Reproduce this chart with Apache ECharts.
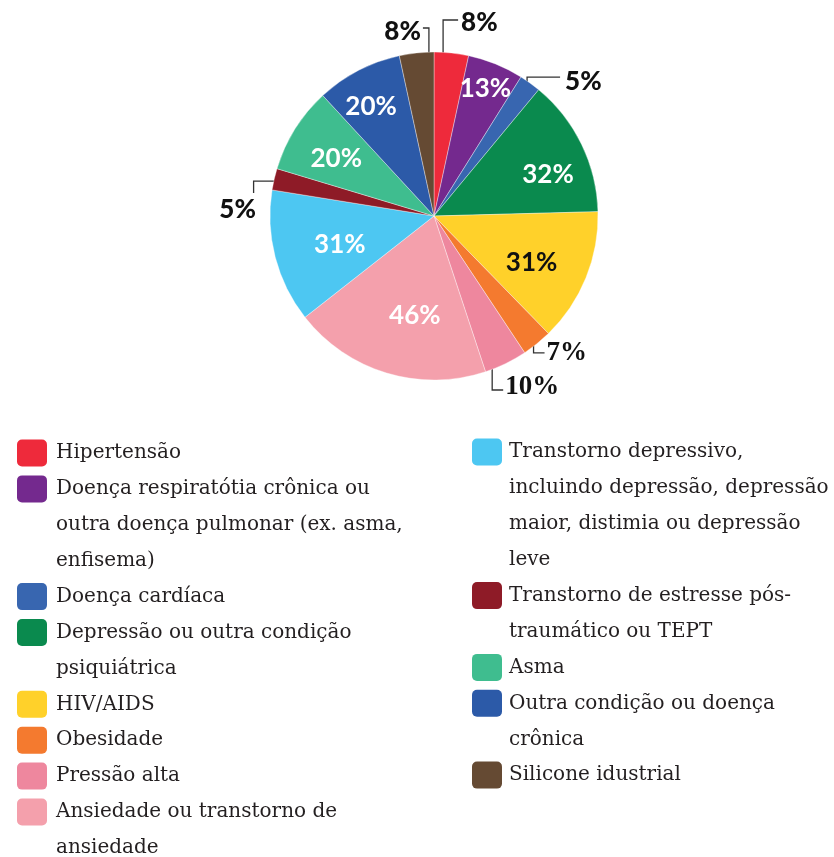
<!DOCTYPE html>
<html>
<head>
<meta charset="utf-8">
<script src="https://cdn.jsdelivr.net/npm/echarts@6/dist/echarts.min.js"></script>
<style>
  html, body { margin: 0; padding: 0; background: #fff; }
  #chart { width: 834px; height: 857px; }
</style>
</head>
<body>
<div id="chart"></div>
<script>
// dados
var categories = [
  "Hipertensão",
  "Doença respiratótia crônica ou\noutra doença pulmonar (ex. asma,\nenfisema)",
  "Doença cardíaca",
  "Depressão ou outra condição\npsiquiátrica",
  "HIV/AIDS",
  "Obesidade",
  "Pressão alta",
  "Ansiedade ou transtorno de\nansiedade",
  "Transtorno depressivo,\nincluindo depressão, depressão\nmaior, distimia ou depressão\nleve",
  "Transtorno de estresse pós-\ntraumático ou TEPT",
  "Asma",
  "Outra condição ou doença\ncrônica",
  "Silicone idustrial"
];
var values = [8, 13, 5, 32, 31, 7, 10, 46, 31, 5, 20, 20, 8];
var colors = [
  "#EE2A3B", "#74298E", "#3866B0", "#0A8A4E", "#FFD12A", "#F47A2F", "#EE879E",
  "#F4A0AC", "#4DC7F2", "#8E1B27", "#3FBD8F", "#2C5AA8", "#654A33"
];
var leftCount = 8; // itens na coluna esquerda da legenda

// geometria
var CX = 434, CY = 216, R = 164;
var total = values.reduce(function (a, b) { return a + b; }, 0);
var startFrac = [];
var acc = 0;
values.forEach(function (v) { startFrac.push(acc / total); acc += v; });

// onde vai cada rótulo (k = fração do raio, at = posição dentro da fatia)
var spots = {
  0: { k: 0.965, at: 0.27, path: [[0, -38], [15, 0]], text: [3, 3], align: "left" },
  1: { k: 0.84, at: 0.49 },
  2: { k: 0.955, at: 0.58, path: [[0, -13], [33, 0]], text: [5, 5], align: "left" },
  3: { k: 0.74, at: 0.62 },
  4: { k: 0.66, at: 0.575 },
  5: { k: 0.945, at: 0.4, path: [[0, 18], [11, 0]], text: [2, 0], align: "left", serif: true },
  6: { k: 0.93, at: 0.73, path: [[0, 33], [11, 0]], text: [2, -3], align: "left", serif: true },
  7: { k: 0.62, at: 0.416 },
  8: { k: 0.6, at: 0.45 },
  9: { k: 0.995, at: 0.42, path: [[-21, 0], [0, 12]], text: [-16, 17], align: "center" },
  10: { k: 0.69, at: 0.44 },
  11: { k: 0.77, at: 0.42 },
  12: { k: 0.97, at: 0.85, path: [[0, -29], [-6, 0]], text: [-2, 4], align: "right" }
};

var pieData = values.map(function (v, i) {
  var s = spots[i];
  var outside = !!s.path;
  return {
    value: v,
    name: categories[i],
    itemStyle: { color: colors[i] },
    label: {
      position: outside ? "outside" : "inside",
      color: (outside || i === 4) ? "#111" : "#fff",
      fontFamily: s.serif ? "Liberation Serif" : "Lato",
      fontWeight: outside && !s.serif ? 900 : "bold",
      fontSize: s.serif ? 27 : 26
    },
    labelLine: { show: outside }
  };
});

// legenda em duas colunas
var graphics = [];
var pitch = 35.9;
function addLegend(from, to, iconX, textX, y0) {
  var y = y0;
  for (var i = from; i < to; i++) {
    graphics.push({
      type: "rect",
      x: iconX, y: y - 13.5,
      shape: { width: 30, height: 27, r: 5 },
      style: { fill: colors[i] }
    });
    graphics.push({
      type: "text",
      x: textX, y: y - 18,
      style: {
        text: categories[i],
        font: "20px 'DejaVu Serif'",
        lineHeight: 36,
        fill: "#231f20",
        verticalAlign: "top"
      }
    });
    y += pitch * categories[i].split("\n").length;
  }
}
addLegend(0, leftCount, 17, 56, 453);
addLegend(leftCount, categories.length, 472, 509, 452);

var chart = echarts.init(document.getElementById("chart"));
var option = {
  animation: false,
  series: [
    {
      type: "pie",
      center: [CX, CY],
      radius: R,
      startAngle: 90,
      clockwise: true,
      avoidLabelOverlap: false,
      itemStyle: { borderColor: "rgba(255,255,255,0.6)", borderWidth: 0.6 },
      label: {
        formatter: function (p) { return p.value + "%"; }
      },
      labelLine: { lineStyle: { color: "#333", width: 1.3 } },
      labelLayout: function (p) {
        var i = p.dataIndex;
        var s = spots[i];
        var a = (startFrac[i] + s.at * values[i] / total) * 2 * Math.PI;
        var x = CX + s.k * R * Math.sin(a);
        var y = CY - s.k * R * Math.cos(a);
        if (!s.path) {
          return { x: x, y: y, align: "center", verticalAlign: "middle" };
        }
        var pts = [[x, y]];
        s.path.forEach(function (d) { x += d[0]; y += d[1]; pts.push([x, y]); });
        return {
          x: x + s.text[0], y: y + s.text[1],
          align: s.align, verticalAlign: "middle",
          labelLinePoints: pts
        };
      },
      data: pieData
    }
  ],
  graphic: graphics
};
chart.setOption(option);
</script>
</body>
</html>
